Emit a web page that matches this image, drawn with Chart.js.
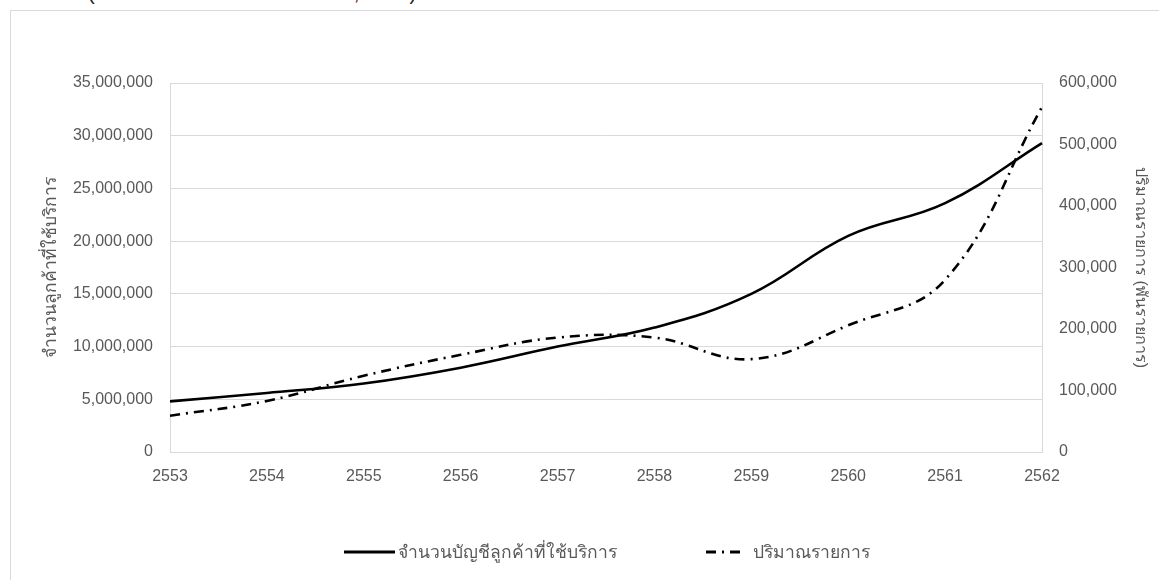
<!DOCTYPE html>
<html lang="th">
<head>
<meta charset="UTF-8">
<title>จำนวนบัญชีลูกค้าที่ใช้บริการ และปริมาณรายการ</title>
<script src="https://cdn.jsdelivr.net/npm/chart.js"></script>
<style>
    html, body { margin: 0; padding: 0; background: #fff; overflow: hidden; }
    body { width: 1159px; height: 580px; position: relative; font-family: "Liberation Sans", Arial, sans-serif; }
    .caption {
        position: absolute; left: 88px; top: -23px;
        font-size: 20px; color: #222; white-space: nowrap;
    }
    .frame {
        position: absolute; left: 10px; top: 10px;
        width: 1300px; height: 700px;
        border: 1px solid #d9d9d9;
    }
    #chart_box { position: absolute; left: 0; top: 0; width: 1159px; height: 580px; }
    .legend-item {
        position: absolute; top: 538px;
        display: flex; align-items: center;
        font-size: 17.5px; color: #595959; white-space: nowrap;
    }
    .legend-item svg { display: block; }
</style>
</head>
<body>
    <div class="caption">(ที่มา: ธนาคารแห่งประเทศไทย, 2562)</div>
    <div class="frame"></div>
    <div id="chart_box"><canvas id="chart"></canvas></div>
    <div class="legend-item" style="left:344px">
        <svg width="52" height="22"><line x1="0" y1="11" x2="51" y2="11" stroke="#000" stroke-width="3"/></svg>
        <span id="lg_accounts" style="margin-left:2px"></span>
    </div>
    <div class="legend-item" style="left:706px">
        <svg width="36" height="22"><line x1="0" y1="11" x2="35" y2="11" stroke="#000" stroke-width="3" stroke-dasharray="10 6 2 6"/></svg>
        <span id="lg_trans" style="margin-left:11px"></span>
    </div>

<script>
    // ปี พ.ศ.
    const YEARS = ['2553', '2554', '2555', '2556', '2557', '2558', '2559', '2560', '2561', '2562']
    // จำนวนบัญชีลูกค้าที่ใช้บริการ (บัญชี)
    const ACCOUNTS = [4800000, 5600000, 6500000, 8000000, 10000000, 11800000, 15000000, 20500000, 23600000, 29300000]
    // ปริมาณรายการ (พันรายการ)
    const TRANSACTIONS = [59000, 83000, 124000, 158000, 186000, 186000, 151000, 206000, 280000, 561000]

    const LEFT_TICKS = { min: 0, max: 35000000, step: 5000000 }
    const RIGHT_TICKS = { min: 0, max: 600000, step: 100000 }

    const LABEL_ACCOUNTS = 'จำนวนบัญชีลูกค้าที่ใช้บริการ'
    const LABEL_TRANS = 'ปริมาณรายการ'
    const TITLE_LEFT = 'จำนวนลูกค้าที่ใช้บริการ'
    const TITLE_RIGHT = 'ปริมาณรายการ (พันรายการ)'

    document.getElementById('lg_accounts').textContent = LABEL_ACCOUNTS
    document.getElementById('lg_trans').textContent = LABEL_TRANS

    const GRID = '#d9d9d9'
    const TEXT = '#595959'
    const FAMILY = '"Liberation Sans", Arial, sans-serif'
    const tickFont = { family: FAMILY, size: 16 }

    const fmt = v => Number(v).toLocaleString('en-US')

    new Chart(document.getElementById('chart'), {
        type: 'line',
        data: {
            labels: YEARS,
            datasets: [
                {
                    label: LABEL_ACCOUNTS,
                    data: ACCOUNTS,
                    yAxisID: 'yLeft',
                    borderColor: '#000',
                    borderWidth: 2.6,
                    tension: 0.4,
                    pointRadius: 0,
                    fill: false
                },
                {
                    label: LABEL_TRANS,
                    data: TRANSACTIONS,
                    yAxisID: 'yRight',
                    borderColor: '#000',
                    borderWidth: 2.6,
                    borderDash: [10, 6, 2, 6],
                    tension: 0.4,
                    pointRadius: 0,
                    fill: false
                }
            ]
        },
        options: {
            responsive: true,
            maintainAspectRatio: false,
            animation: false,
            layout: { padding: { left: 0, right: 0, top: 83, bottom: 0 } },
            plugins: {
                legend: { display: false },
                tooltip: { enabled: false }
            },
            scales: {
                x: {
                    offset: false,
                    grid: { display: false, drawTicks: false },
                    border: { display: true, color: GRID },
                    ticks: { color: TEXT, font: tickFont, padding: 15, maxRotation: 0 },
                    afterFit: s => { s.height = 128 }
                },
                yLeft: {
                    position: 'left',
                    min: LEFT_TICKS.min,
                    max: LEFT_TICKS.max,
                    grid: { color: GRID, drawTicks: false },
                    border: { display: true, color: GRID },
                    ticks: { stepSize: LEFT_TICKS.step, color: TEXT, font: tickFont, padding: 17, callback: fmt },
                    title: { display: true, text: TITLE_LEFT, color: TEXT, font: { family: FAMILY, size: 17.5 }, padding: { top: 41 } },
                    afterFit: s => { s.width = 170 }
                },
                yRight: {
                    position: 'right',
                    min: RIGHT_TICKS.min,
                    max: RIGHT_TICKS.max,
                    grid: { drawOnChartArea: false, drawTicks: false },
                    border: { display: true, color: GRID },
                    ticks: { stepSize: RIGHT_TICKS.step, color: TEXT, font: tickFont, padding: 17, callback: fmt },
                    title: { display: true, text: TITLE_RIGHT, color: TEXT, font: { family: FAMILY, size: 16 }, padding: { top: 9 } },
                    afterFit: s => { s.width = 117 }
                }
            }
        }
    })
</script>
</body>
</html>
